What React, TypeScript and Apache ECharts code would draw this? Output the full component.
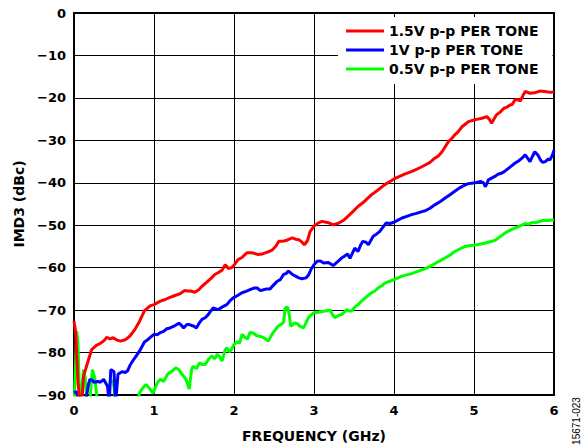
import React, { useEffect, useRef } from "react";
import * as echarts from "echarts";

const xTicks = [0, 1, 2, 3, 4, 5, 6];
const yTicks = [0, -10, -20, -30, -40, -50, -60, -70, -80, -90];

const seriesNames = ["1.5V p-p PER TONE", "1V p-p PER TONE", "0.5V p-p PER TONE"];

const redFreq = [0, 0.02, 0.05, 0.07, 0.1, 0.12, 0.17, 0.22, 0.28, 0.33, 0.37, 0.41, 0.45, 0.49, 0.53, 0.58, 0.64, 0.7, 0.76, 0.82, 0.88, 0.95, 1.0, 1.08, 1.14, 1.2, 1.27, 1.33, 1.38, 1.42, 1.46, 1.51, 1.56, 1.6, 1.66, 1.72, 1.76, 1.8, 1.85, 1.89, 1.93, 1.97, 2.01, 2.05, 2.1, 2.16, 2.23, 2.3, 2.35, 2.39, 2.44, 2.48, 2.52, 2.56, 2.6, 2.65, 2.69, 2.73, 2.77, 2.81, 2.85, 2.88, 2.92, 2.95, 3.0, 3.05, 3.1, 3.18, 3.24, 3.3, 3.38, 3.47, 3.55, 3.63, 3.72, 3.8, 3.88, 3.94, 4.0, 4.07, 4.14, 4.2, 4.26, 4.33, 4.39, 4.45, 4.51, 4.56, 4.6, 4.64, 4.68, 4.72, 4.76, 4.8, 4.85, 4.89, 4.93, 5.0, 5.05, 5.1, 5.16, 5.19, 5.22, 5.25, 5.28, 5.33, 5.37, 5.41, 5.45, 5.48, 5.51, 5.55, 5.58, 5.61, 5.64, 5.7, 5.76, 5.82, 5.89, 5.95, 6.0];
const redIMD3 = [-72.6, -75, -87, -91, -91, -85.5, -82.4, -79.3, -78.3, -77.8, -77.3, -76.4, -76.8, -76.5, -77, -77.3, -77, -76.1, -74.6, -72.6, -70.2, -69, -68.7, -67.9, -67.5, -67, -66.5, -66.1, -65.4, -65.5, -65.5, -65.8, -65.2, -64.4, -63.4, -62.4, -61.6, -61.2, -60.6, -59.3, -60.2, -60, -59.2, -58.1, -57.6, -56.5, -56.5, -56.9, -56.8, -56.5, -56.2, -55.8, -55, -53.8, -53.8, -53.6, -53.3, -53, -53.3, -53.4, -54, -54.6, -53.6, -51.5, -50.2, -49.5, -49.1, -49.4, -49.9, -49.6, -48.7, -47.1, -45.6, -44.4, -42.8, -41.7, -40.5, -39.8, -39.1, -38.5, -37.9, -37.5, -37, -36.4, -35.8, -35.2, -34.2, -33.6, -32.7, -31.5, -30.3, -29.6, -28.7, -28, -26.8, -26.2, -25.6, -25.2, -25, -24.8, -24.4, -25, -26, -25, -24, -23.3, -22.5, -22.2, -21.7, -21.5, -20.5, -20.4, -20.7, -19.5, -18.5, -18.9, -18.8, -18.4, -18.5, -18.7, -18.6];

const blueFreq = [0, 0.03, 0.06, 0.15, 0.18, 0.2, 0.23, 0.25, 0.3, 0.33, 0.37, 0.4, 0.42, 0.44, 0.46, 0.5, 0.52, 0.55, 0.6, 0.64, 0.67, 0.7, 0.74, 0.77, 0.8, 0.83, 0.88, 0.92, 0.95, 1.0, 1.04, 1.08, 1.12, 1.16, 1.2, 1.25, 1.31, 1.34, 1.37, 1.41, 1.44, 1.5, 1.53, 1.56, 1.6, 1.64, 1.68, 1.71, 1.74, 1.8, 1.85, 1.91, 1.95, 1.99, 2.05, 2.1, 2.15, 2.2, 2.25, 2.29, 2.33, 2.37, 2.41, 2.45, 2.5, 2.54, 2.58, 2.62, 2.65, 2.68, 2.73, 2.77, 2.81, 2.85, 2.9, 2.93, 2.96, 3.0, 3.04, 3.08, 3.12, 3.18, 3.24, 3.3, 3.34, 3.38, 3.42, 3.45, 3.51, 3.55, 3.58, 3.61, 3.65, 3.68, 3.74, 3.78, 3.82, 3.86, 3.9, 3.95, 4.0, 4.05, 4.1, 4.16, 4.22, 4.28, 4.35, 4.39, 4.45, 4.51, 4.58, 4.64, 4.7, 4.76, 4.82, 4.89, 4.93, 4.97, 5.02, 5.08, 5.12, 5.14, 5.16, 5.18, 5.22, 5.26, 5.3, 5.35, 5.39, 5.43, 5.47, 5.51, 5.56, 5.6, 5.64, 5.67, 5.7, 5.73, 5.76, 5.8, 5.83, 5.86, 5.89, 5.93, 5.95, 5.98, 6.0];
const blueIMD3 = [-89.5, -89.2, -91, -91, -87.5, -86.3, -86.5, -87, -86.8, -87, -86.3, -87.3, -88, -92, -84, -84.5, -92, -85.1, -84.5, -84.7, -84.3, -83, -81.8, -81, -80.2, -79.3, -77.5, -77, -76.5, -75.7, -75.8, -75.3, -75, -74.4, -74.2, -73.8, -73.1, -73.5, -74.2, -73.4, -73.4, -73.8, -74.2, -73.2, -72.2, -71.8, -71, -70.2, -69.5, -69.9, -69.3, -68.7, -67.8, -67.1, -66.5, -65.9, -65.6, -65.2, -64.8, -64.8, -65.4, -65.2, -65, -65, -64, -63.2, -62.8, -61.6, -61.4, -60.8, -61.6, -62, -62.4, -62.6, -62.4, -61.8, -60.5, -59.3, -58.5, -58.4, -58.9, -58.8, -59.5, -58.5, -57.8, -57.3, -56.8, -57.8, -55.4, -56.2, -54.8, -53.8, -54, -54.6, -52.6, -52.1, -51.5, -50.5, -49.5, -49.6, -49.3, -48.8, -48.3, -47.9, -47.5, -47.2, -46.8, -46.6, -46, -45.2, -44.4, -43.6, -42.8, -42, -41.2, -40.5, -40.2, -40.1, -40, -39.7, -40, -40.9, -40.3, -39.3, -38.9, -38.5, -38, -37.7, -37.2, -36.6, -36, -35.4, -34.8, -34.2, -33.4, -34.2, -35, -33.8, -32.7, -33.5, -34.6, -35.2, -35, -34.4, -34.6, -33.5, -32.3];

const greenFreq = [0, 0.035, 0.05, 0.07, 0.1, 0.12, 0.14, 0.16, 0.2, 0.23, 0.26, 0.29, 0.32, 0.42, 0.45, 0.48, 0.5, 0.52, 0.78, 0.82, 0.85, 0.9, 0.95, 0.99, 1.04, 1.08, 1.12, 1.17, 1.23, 1.27, 1.31, 1.35, 1.4, 1.44, 1.47, 1.49, 1.53, 1.57, 1.6, 1.64, 1.68, 1.72, 1.76, 1.79, 1.82, 1.85, 1.89, 1.91, 1.94, 1.96, 2.0, 2.04, 2.07, 2.1, 2.14, 2.17, 2.2, 2.25, 2.28, 2.33, 2.37, 2.43, 2.46, 2.49, 2.55, 2.6, 2.62, 2.64, 2.67, 2.69, 2.71, 2.76, 2.8, 2.82, 2.87, 2.9, 2.93, 2.96, 3.0, 3.03, 3.08, 3.14, 3.2, 3.23, 3.26, 3.3, 3.35, 3.41, 3.44, 3.47, 3.51, 3.55, 3.6, 3.64, 3.68, 3.72, 3.76, 3.8, 3.85, 3.89, 3.95, 4.0, 4.05, 4.1, 4.16, 4.22, 4.28, 4.35, 4.42, 4.49, 4.56, 4.64, 4.7, 4.76, 4.82, 4.89, 4.95, 5.0, 5.07, 5.14, 5.2, 5.26, 5.32, 5.39, 5.45, 5.51, 5.57, 5.64, 5.68, 5.72, 5.79, 5.85, 5.92, 6.0];
const greenIMD3 = [-93, -75, -78, -91, -88, -84, -86, -91, -91, -84, -86, -91, -93, -93, -87, -86.5, -88, -93, -93, -89.5, -88.6, -87.5, -88.6, -89.6, -87.1, -86.3, -86.8, -85.1, -84.3, -83.6, -84, -85.1, -86.3, -88.6, -84, -83.2, -83.8, -82.4, -82.8, -82.8, -81.6, -80.8, -81.5, -80.4, -81, -82, -79.4, -78.9, -79.8, -79.5, -78.1, -77.5, -77.8, -75.7, -76.5, -76.8, -75.2, -75.5, -76, -76.2, -76.5, -77.3, -76.2, -75.3, -73.8, -73.2, -72.8, -69.5, -69.3, -71, -73.8, -73, -73.3, -73.8, -74.2, -73, -71.8, -71.2, -70.6, -70.6, -70.4, -70.2, -70, -71, -71.8, -71.3, -71, -69.9, -70.2, -70.2, -69.3, -68.7, -67.8, -67.1, -66.5, -65.9, -65.5, -64.8, -64.2, -63.6, -63.2, -62.8, -62.4, -62, -61.7, -61.4, -61, -60.5, -60, -59.3, -58.5, -57.7, -57, -56.2, -55.6, -55, -54.8, -54.7, -54.5, -54.2, -53.9, -53.6, -52.8, -51.8, -51.2, -50.7, -50.2, -49.6, -49.8, -49.4, -49.3, -48.9, -48.9, -48.7];

const colors = ["#ff0000", "#0000ff", "#00ff00"];

const pair = (xs: number[], ys: number[]) => xs.map((x, i) => [x, ys[i]]);

export default function App() {
  const ref = useRef<HTMLDivElement>(null);
  useEffect(() => {
    if (!ref.current) return;
    const chart = echarts.init(ref.current, null, { renderer: "svg" });
    const font = "DejaVu Sans";
    chart.setOption({
      animation: false,
      backgroundColor: "#ffffff",
      grid: {
        left: 74,
        top: 13,
        width: 480,
        height: 383,
        show: true,
        borderColor: "#000",
        borderWidth: 2,
        backgroundColor: "transparent",
      },
      legend: {
        data: seriesNames,
        orient: "vertical",
        left: 338,
        top: 17,
        padding: [7, 14, 8, 8],
        icon: "rect",
        itemWidth: 38,
        itemHeight: 3,
        itemGap: 5,
        backgroundColor: "#ffffff",
        textStyle: {
          fontFamily: font,
          fontWeight: "bold",
          fontSize: 14,
          lineHeight: 14,
          color: "#000",
        },
      },
      xAxis: {
        type: "value",
        min: 0,
        max: 6,
        interval: 1,
        name: "FREQUENCY (GHz)",
        nameLocation: "middle",
        nameGap: 34,
        nameTextStyle: { fontFamily: font, fontWeight: "bold", fontSize: 14, color: "#000" },
        axisLine: { show: true, lineStyle: { color: "#000", width: 2 } },
        axisTick: { show: false },
        splitLine: { show: true, lineStyle: { color: "#000", width: 1 } },
        axisLabel: {
          margin: 9,
          fontFamily: font,
          fontWeight: "bold",
          fontSize: 13,
          color: "#000",
          formatter: (v: number) => (xTicks.includes(v) ? String(v) : ""),
        },
      },
      yAxis: {
        type: "value",
        min: -90,
        max: 0,
        interval: 10,
        name: "IMD3 (dBc)",
        nameLocation: "middle",
        nameGap: 48,
        nameTextStyle: { fontFamily: font, fontWeight: "bold", fontSize: 14, color: "#000" },
        axisLine: { show: true, lineStyle: { color: "#000", width: 2 } },
        axisTick: { show: false },
        splitLine: { show: true, lineStyle: { color: "#000", width: 1 } },
        axisLabel: {
          margin: 8,
          fontFamily: font,
          fontWeight: "bold",
          fontSize: 13,
          color: "#000",
          formatter: (v: number) =>
            yTicks.includes(v) ? (v < 0 ? "\u2212" + String(-v) : String(v)) : "",
        },
      },
      graphic: [
        {
          type: "text",
          x: 576,
          y: 421,
          rotation: Math.PI / 2,
          style: {
            text: "15671-023",
            fontFamily: "Liberation Sans",
            fontSize: 10,
            fill: "#000",
            align: "center",
            verticalAlign: "middle",
          },
        },
      ],
      series: [
        { name: seriesNames[2], data: pair(greenFreq, greenIMD3), color: colors[2] },
        { name: seriesNames[1], data: pair(blueFreq, blueIMD3), color: colors[1] },
        { name: seriesNames[0], data: pair(redFreq, redIMD3), color: colors[0] },
      ].map((s) => ({
        type: "line",
        name: s.name,
        data: s.data,
        symbol: "none",
        showSymbol: false,
        clip: true,
        color: s.color,
        lineStyle: { color: s.color, width: 3 },
      })),
    });
    return () => chart.dispose();
  }, []);
  return (
    <div
      ref={ref}
      style={{ position: "absolute", left: 0, top: 0, width: 581, height: 448 }}
    />
  );
}
